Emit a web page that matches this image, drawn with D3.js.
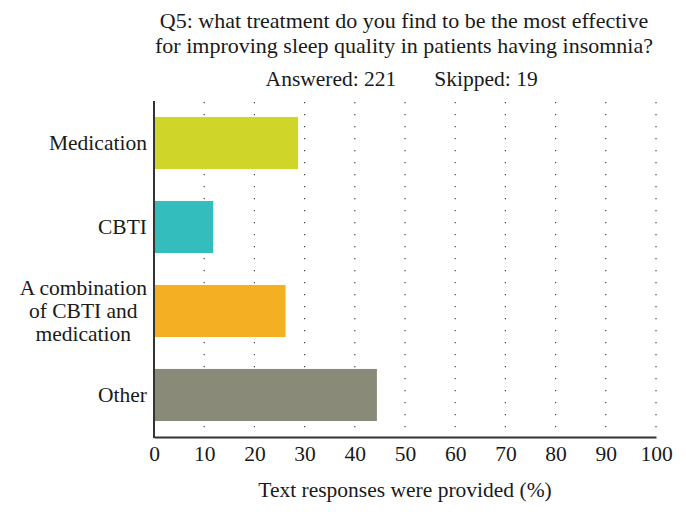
<!DOCTYPE html>
<html><head><meta charset="utf-8">
<script src="https://cdn.jsdelivr.net/npm/d3@7"></script>
<style>body{margin:0;background:#fff}svg text{font-family:"Liberation Serif","DejaVu Serif",serif;fill:#1a1a1a}</style>
</head><body><svg id="c" width="686" height="512"></svg>
<script>
const categories = [["Medication"], ["CBTI"], ["A combination", "of CBTI and", "medication"], ["Other"]];
const values = [28.7, 11.8, 26.2, 44.4];
const colors = ["#D0D52A", "#33BDBD", "#F5AF22", "#8A8A78"];
const xTicks = [0, 10, 20, 30, 40, 50, 60, 70, 80, 90, 100];
const titleLines = ["Q5: what treatment do you find to be the most effective", "for improving sleep quality in patients having insomnia?"];
const answered = "Answered: 221", skipped = "Skipped: 19";
const xLabel = "Text responses were provided (%)";

const svg = d3.select("#c");
const L = 154, R = 656, T = 101, B = 437;
const FS = "21.5px";
const x = d3.scaleLinear().domain([0, 100]).range([L, R]);
const y = d3.scaleBand().domain(d3.range(categories.length)).range([T, B]).paddingInner(0.38).paddingOuter(0.19);

// dotted gridlines
svg.append("g").selectAll("line").data(xTicks.slice(1)).join("line")
  .attr("x1", d => x(d)).attr("x2", d => x(d)).attr("y1", T + 1).attr("y2", B - 1)
  .attr("stroke", "#444").attr("stroke-width", 1.2).attr("stroke-dasharray", "1.2,10.8");

// bars
svg.append("g").selectAll("rect").data(values).join("rect")
  .attr("x", x(0)).attr("y", (d, i) => y(i)).attr("width", d => x(d) - x(0)).attr("height", y.bandwidth())
  .attr("fill", (d, i) => colors[i]);

// axes
const xa = svg.append("g").attr("transform", `translate(0,${B})`)
  .call(d3.axisBottom(x).tickValues(xTicks).tickSize(0).tickPadding(9));
xa.select(".domain").attr("stroke", "#333").attr("stroke-width", 2);
xa.selectAll("text").style("font-size", FS).style("font-family", "Liberation Serif").attr("fill", "#1a1a1a");
svg.append("line").attr("x1", L).attr("x2", L).attr("y1", T).attr("y2", B + 1).attr("stroke", "#333").attr("stroke-width", 2);

// category labels
categories.forEach((lines, i) => {
  const cy = y(i) + y.bandwidth() / 2;
  const lh = 23;
  const g = svg.append("g");
  const t = g.append("text").attr("text-anchor", "middle").style("font-size", FS);
  lines.forEach((s, k) => {
    t.append("tspan").attr("x", 0).attr("y", cy + (k - (lines.length - 1) / 2) * lh + 7).text(s);
  });
  const w = t.node().getBBox().width;
  g.attr("transform", `translate(${147 - w / 2},0)`);
});

// title
titleLines.forEach((s, k) => {
  svg.append("text").attr("x", 404).attr("y", 28 + k * 25).attr("text-anchor", "middle").style("font-size", "22px").text(s);
});
svg.append("text").attr("x", 331).attr("y", 86).attr("text-anchor", "middle").style("font-size", FS).text(answered);
svg.append("text").attr("x", 486).attr("y", 86).attr("text-anchor", "middle").style("font-size", FS).text(skipped);
svg.append("text").attr("x", 405).attr("y", 497).attr("text-anchor", "middle").style("font-size", FS).text(xLabel);
</script></body></html>
